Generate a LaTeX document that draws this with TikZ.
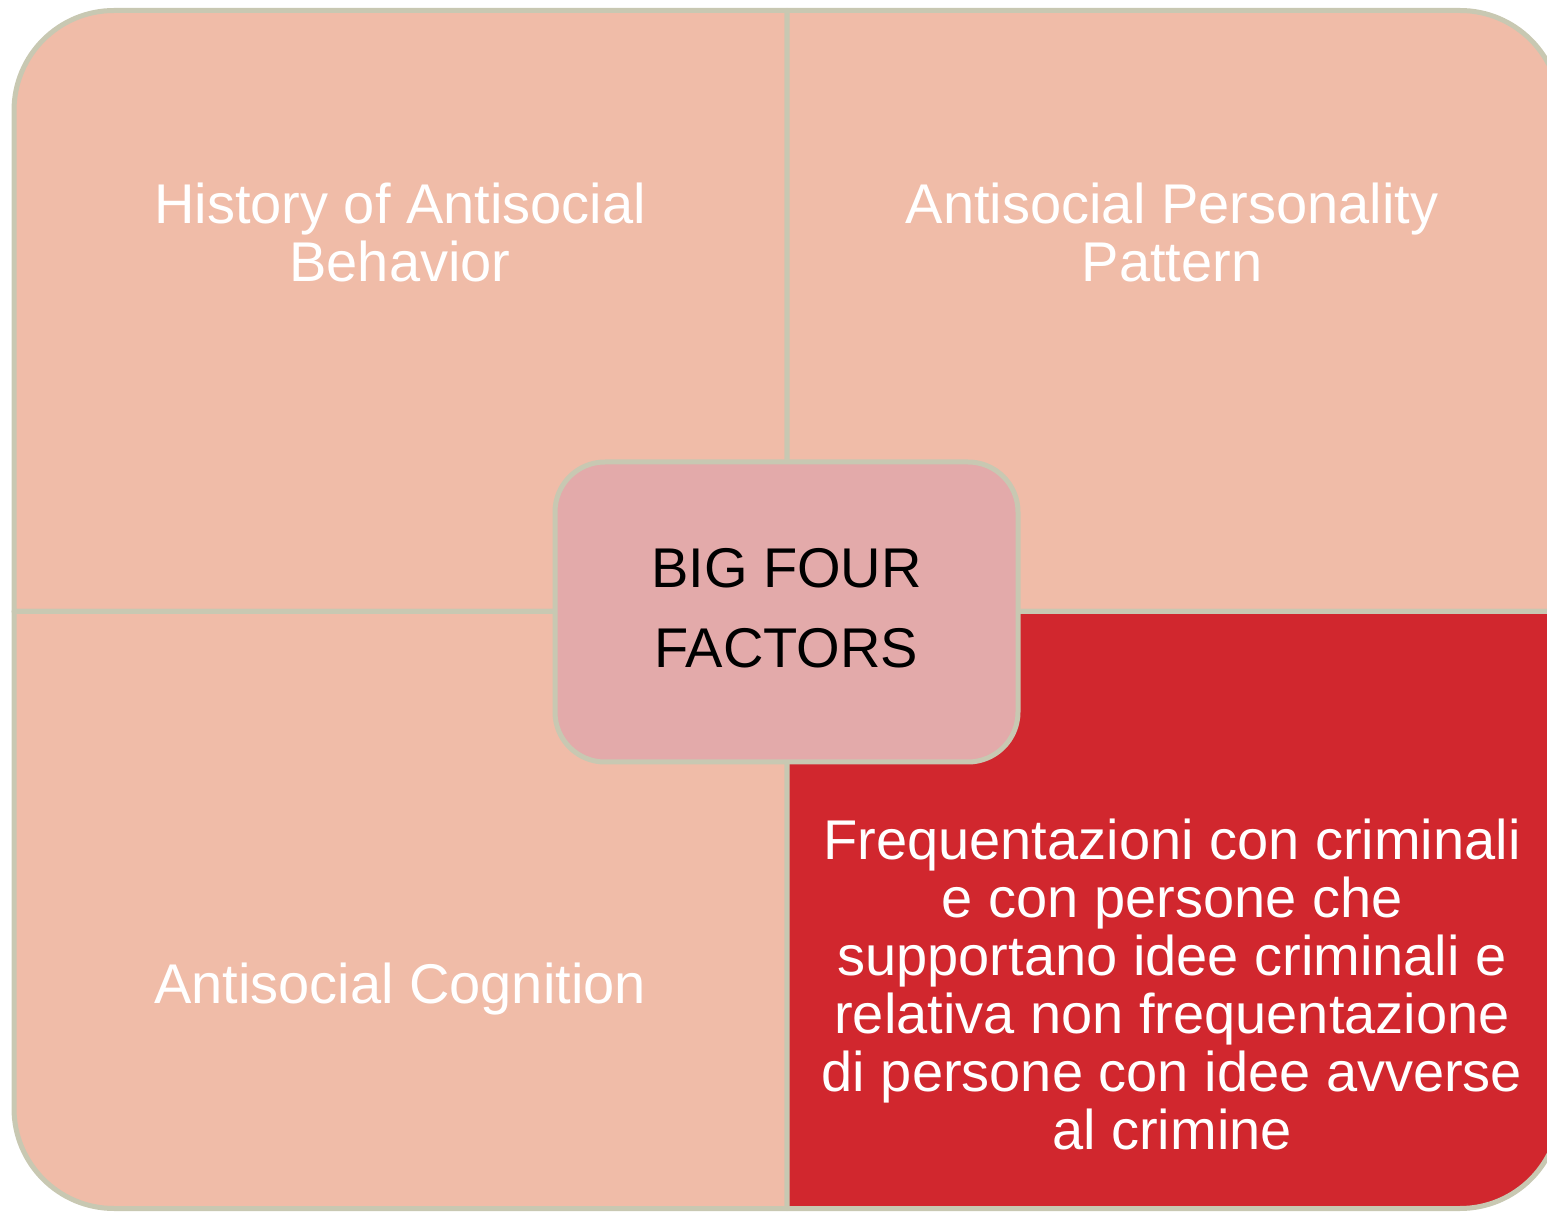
\documentclass[tikz,border=0pt]{standalone}
\usepackage{fontspec}
\setmainfont{Liberation Sans}
\definecolor{peach}{RGB}{240,188,168}
\definecolor{redq}{RGB}{209,39,46}
\definecolor{pinkc}{RGB}{227,170,170}
\definecolor{edge}{RGB}{200,200,178}
\tikzset{
  quad/.style={draw=edge, line width=5pt, line join=round},
  qtext/.style={text=white, align=center, inner sep=0pt, anchor=base, font=\fontsize{56}{58}\selectfont},
  ctext/.style={text=black, align=center, inner sep=0pt, anchor=base, font=\fontsize{56}{80}\selectfont},
  centerbox/.style={draw=edge, fill=pinkc, line width=5pt, rounded corners=50pt, minimum width=463pt, minimum height=300pt, inner sep=0pt}
}
\begin{document}
\begin{tikzpicture}[x=1pt,y=1pt]
\useasboundingbox (0,0) rectangle (1547,1211);
\clip (0,0) rectangle (1547,1211);
% quadrants
\path[quad, fill=peach] (787,599.5) -- (14,599.5) -- (14,1100.5) arc[start angle=180,end angle=90,radius=100] -- (787,1200.5) -- cycle;
\path[quad, fill=peach] (787,599.5) -- (787,1200.5) -- (1460,1200.5) arc[start angle=90,end angle=0,radius=100] -- (1560,599.5) -- cycle;
\path[quad, fill=peach] (787,599.5) -- (14,599.5) -- (14,102.5) arc[start angle=180,end angle=270,radius=100] -- (114,2.5) -- (787,2.5) -- cycle;
\path[quad, fill=redq] (787,599.5) -- (1560,599.5) -- (1560,102.5) arc[start angle=0,end angle=-90,radius=100] -- (787,2.5) -- cycle;
% texts (base anchor = last line's baseline)
\node[qtext] (hist) at (400,929) {History of Antisocial\\Behavior};
\node[qtext] (pers) at (1172,929) {Antisocial Personality\\Pattern};
\node[qtext] (cogn) at (400,208) {Antisocial Cognition};
\node[qtext] (freq) at (1172,62) {Frequentazioni con criminali\\e con persone che\\supportano idee criminali e\\relativa non frequentazione\\di persone con idee avverse\\al crimine};
% center
\node[centerbox] (center) at (786.5,599) {};
\node[ctext] (big) at (786.5,543) {BIG FOUR\\FACTORS};
\end{tikzpicture}
\end{document}
